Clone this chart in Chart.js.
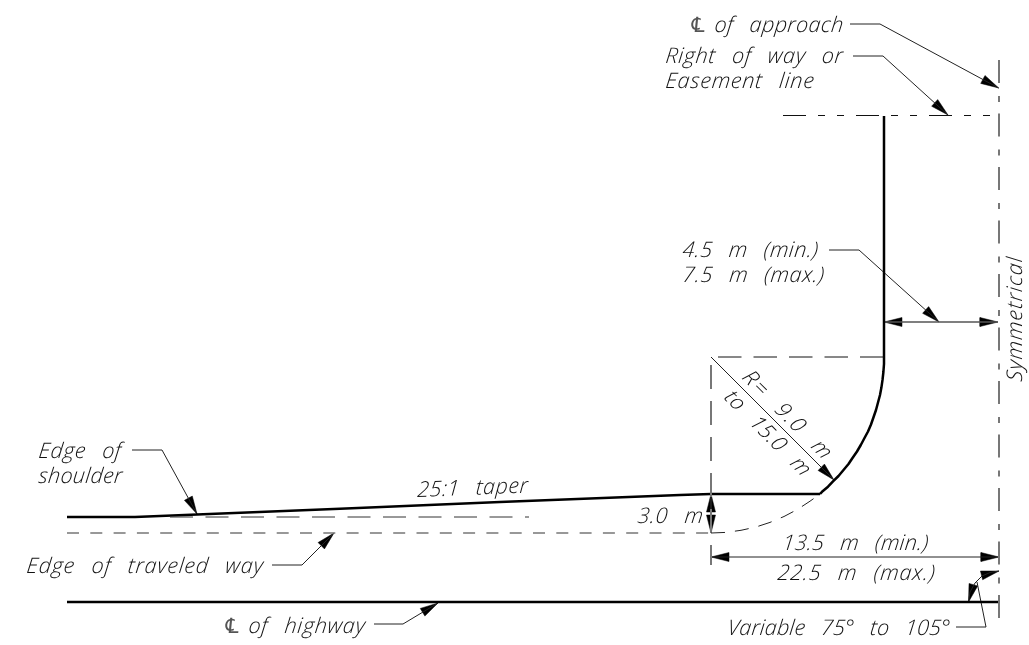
<!DOCTYPE html>
<html>
<head>
<meta charset="utf-8">
<title>Approach layout</title>
<script src="https://cdn.jsdelivr.net/npm/chart.js@4"></script>
<style>
	html, body { margin: 0; padding: 0; background: #fff; }
	#chart { display: block; }
</style>
</head>
<body>
<canvas id="chart" width="1029" height="645"></canvas>
<script>
//all points, x to the right, y downward
var shoulderEdge = [[67,517],[135,517],[197,514.5],[340,508.7],[500,502],[680,495],[711,494],[820,494]];
var returnCurve = [[820,494],[822,491.8],[828,486.7],[833,481.4],[838.5,476],[843.5,470],[848.5,464],[852.5,458],
	[857,451.5],[860.8,445],[864.5,438],[868,431.5],[871,424.5],[873.6,417],[876,410],[878,402.5],[880,395],
	[881.4,387.6],[882.5,380],[883.4,372],[884,364],[884,357],[884,116]];
var highway = [[67,602],[999,602]];

var returnDashed = [[711,533],[726,532.4],[741,530.3],[756,527],[770,522.4],[784,516.5],[797.5,509.4],[810,501.2],[820,494]];
var traveledWay = [[67,533],[711,533]];
var taperDashed = [[170,517],[529,517]];
var radiusTop = [[718,357],[884,357]];
var rightOfWay = [[783,115.5],[1002,115.5]];
var approachCentre = [[999,60],[999,620]];
var radiusSide = [[711,365],[711,565]];

var radiusLine = [[711,357],[834,480]];
var widthDim = [[884,322],[998,322]];
var throatDim = [[711,557],[999,557]];
var offsetDim = [[711,494],[711,533]];
var angleArc = [[968.5,602],[970,592],[975,583],[982,576],[990,572.5],[999,571]];

var leaderApproach = [[850,24],[880,24],[998.7,88]];
var leaderRow = [[853,56],[883,56],[948,115]];
var leaderWidth = [[829,250],[859,250],[939,322]];
var leaderShoulder = [[132,450],[162,450],[197,514]];
var leaderTraveled = [[272,565],[302,565],[334,533]];
var leaderHighway = [[374,624],[403,624],[438,603]];
var leaderAngle = [[956,627],[986,627],[977,582]];

//tip of the arrow, then a point it comes from
var arrows = [
	[[998.7,88],[880,24]], [[948,115],[883,56]], [[939,322],[859,250]],
	[[197,514],[162,450]], [[334,533],[302,565]], [[438,603],[403,624]],
	[[884,322],[998,322]], [[998,322],[884,322]],
	[[711,557],[999,557]], [[999,557],[711,557]],
	[[711,494],[711,533]], [[711,533],[711,494]],
	[[834,480],[711,357]],
	[[968.5,602],[973,586]], [[999,571],[983,575]]
];

var labelTexts = ["\u2104", "of approach", "Right of way or", "Easement line", "4.5 m (min.)", "7.5 m (max.)",
	"Symmetrical", "R= 9.0 m", "to 15.0 m", "25:1 taper", "3.0 m", "13.5 m (min.)", "22.5 m (max.)",
	"Variable 75\u00b0 to 105\u00b0", "Edge of", "shoulder", "Edge of traveled way", "\u2104", "of highway"];
//left end of baseline, text width, angle in degrees
var labelPlace = [
	[688,32,16,0], [714,32,129,0], [665,63,178,0], [665,88,149,0], [682,257,136,0], [682,282,142,0],
	[1022,382,125,-90], [741,378,118,45], [723,398,112,45], [417,497,111,-2.3], [637,523,66,0],
	[782,550,146,0], [777,580,158,0], [727,635,223,0], [38,458,83,0], [38,483,84,0],
	[26,573,237,0], [222,633,16,0], [248,633,117,0]
];

function line(pts, width, color, dash) {
	return {
		data: pts.map(function(p) { return {x: p[0], y: p[1]}; }),
		showLine: true,
		pointRadius: 0,
		borderWidth: width,
		borderColor: color,
		borderDash: dash || [],
		borderCapStyle: 'butt',
		borderJoinStyle: 'round',
		tension: 0,
		fill: false
	};
}

//filled triangle for an arrow head
function head(tip, from) {
	var dx = from[0] - tip[0], dy = from[1] - tip[1];
	var d = Math.sqrt(dx * dx + dy * dy);
	var ux = dx / d, uy = dy / d;
	var bx = tip[0] + ux * 18, by = tip[1] + uy * 18;
	var ds = line([tip, [bx - uy * 4.5, by + ux * 4.5], [bx + uy * 4.5, by - ux * 4.5], tip], 0.5, '#000');
	ds.fill = 'shape';
	ds.backgroundColor = '#000';
	return ds;
}

var labelPlugin = {
	id: 'labels',
	afterDatasetsDraw: function(chart) {
		var ctx = chart.ctx;
		var xs = chart.scales.x, ys = chart.scales.y;
		for (var i = 0; i < labelTexts.length; i++) {
			var p = labelPlace[i];
			var isSymbol = labelTexts[i] === "\u2104";
			ctx.save();
			ctx.translate(xs.getPixelForValue(p[0]), ys.getPixelForValue(p[1]));
			ctx.rotate(p[3] * Math.PI / 180);
			ctx.transform(1, 0, -0.1, 1, 0, 0);
			ctx.font = isSymbol ? 'italic 21px "DejaVu Sans", sans-serif' : 'italic 300 21.5px "Open Sans", "Liberation Sans", sans-serif';
			ctx.fillStyle = isSymbol ? '#555' : '#111';
			ctx.textBaseline = 'alphabetic';
			ctx.letterSpacing = '0px';
			ctx.wordSpacing = '10px';
			//spread the letters so each label has the drawn width
			if (!isSymbol) {
				var natural = ctx.measureText(labelTexts[i]).width;
				ctx.letterSpacing = ((p[2] - natural) / labelTexts[i].length).toFixed(2) + 'px';
			}
			ctx.fillText(labelTexts[i], 0, 0);
			ctx.restore();
		}
	}
};

var datasets = [
	line(traveledWay, 1.5, '#777', [12, 11.3]),
	line(returnDashed, 1, '#222', [14, 10]),
	line(taperDashed, 1, '#333', [23, 12.5]),
	line(radiusTop, 1, '#111', [23.5, 12]),
	line(rightOfWay, 1, '#111', [23, 12, 7, 12, 7, 12]),
	line(approachCentre, 2, '#777', [23, 13, 6, 11.5]),
	line(radiusSide, 2, '#777', [24, 12]),
	line(shoulderEdge, 2.5, '#000'),
	line(returnCurve, 2.5, '#000'),
	line(highway, 2.5, '#000'),
	line(radiusLine, 1, '#222'),
	line(widthDim, 1.5, '#555'),
	line(throatDim, 1, '#222'),
	line(offsetDim, 1, '#222'),
	line(angleArc, 1, '#222'),
	line(leaderApproach, 1, '#222'),
	line(leaderRow, 1, '#222'),
	line(leaderWidth, 1, '#222'),
	line(leaderShoulder, 1, '#222'),
	line(leaderTraveled, 1, '#222'),
	line(leaderHighway, 1, '#222'),
	line(leaderAngle, 1, '#222')
];
arrows.forEach(function(a) {
	datasets.push(head(a[0], a[1]));
});

new Chart(document.getElementById('chart'), {
	type: 'scatter',
	data: { datasets: datasets },
	options: {
		responsive: false,
		animation: false,
		layout: { padding: 0 },
		plugins: { legend: { display: false }, tooltip: { enabled: false } },
		scales: {
			x: { type: 'linear', min: 0, max: 1029, display: false },
			y: { type: 'linear', min: 0, max: 645, reverse: true, display: false }
		}
	},
	plugins: [labelPlugin]
});
</script>
</body>
</html>
